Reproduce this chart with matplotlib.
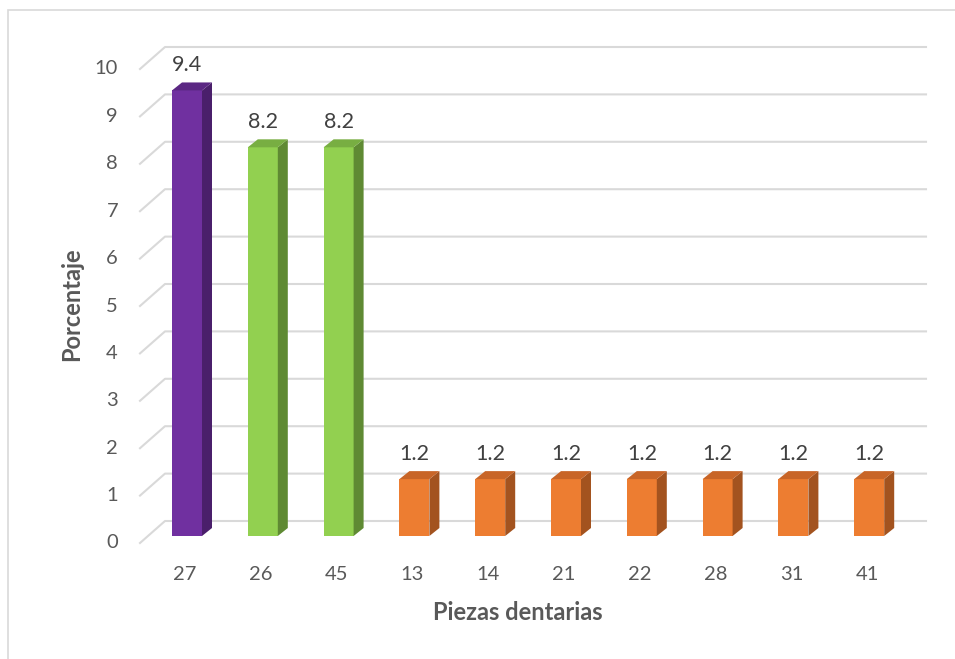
import numpy as np
import matplotlib.pyplot as plt
from matplotlib.patches import Polygon, Rectangle

# data
piezas = ['27', '26', '45', '13', '14', '21', '22', '28', '31', '41']
porcentaje = [9.4, 8.2, 8.2, 1.2, 1.2, 1.2, 1.2, 1.2, 1.2, 1.2]
front_col = ['#7030A0', '#92D050', '#92D050'] + ['#ED7D31'] * 7
side_col = ['#4A1F6B', '#5F8A33', '#5F8A33'] + ['#A3531F'] * 7
top_col = ['#5B2783', '#78AE42', '#78AE42'] + ['#C86527'] * 7
y_ticks = list(range(0, 11))

# pixel -> data mapping (category spacing 75.8 px, 47.4 px per unit)
W, H = 955, 659
cx0, cdx = 185, 75.8
y0, dyu = 536, 47.4

fig = plt.figure(figsize=(W / 100, H / 100), dpi=100)
ax = fig.add_axes([0, 0, 1, 1])
ax.set_xlim((0 - cx0) / cdx, (W - cx0) / cdx)
ax.set_ylim((y0 - H) / dyu, y0 / dyu)
ax.axis('off')

plt.rcParams['font.family'] = ['Lato', 'DejaVu Sans']
txt = '#595959'
grid = '#D9D9D9'

# border of chart area
fig.patches.append(Rectangle((8 / W, -0.01), 1.2, 1 - 10 / H - (-0.01),
                             transform=fig.transFigure, fill=False,
                             edgecolor='#D9D9D9', lw=1.2))

# 3D wall gridlines
gx_front = (140 - cx0) / cdx
gx_back = (165 - cx0) / cdx
gx_end = (926 - cx0) / cdx
front_off = -7 / dyu
back_off = 15 / dyu
for v in y_ticks:
    ax.plot([gx_front, gx_back, gx_end], [v + front_off, v + back_off, v + back_off],
            color=grid, lw=1.5, zorder=1)
    ax.text((118 - cx0) / cdx, v + front_off, str(v), ha='right', va='center',
            fontsize=14.5, color=txt)

# bars
bw = 30 / cdx
ddx = 10 / cdx
ddy = 8 / dyu
for i, (lab, val) in enumerate(zip(piezas, porcentaje)):
    xl = i + (187 - cx0) / cdx - bw / 2
    xr = xl + bw
    ax.add_patch(Polygon([(xl, 0), (xr, 0), (xr, val), (xl, val)],
                         closed=True, facecolor=front_col[i], edgecolor='none', zorder=3))
    ax.add_patch(Polygon([(xr, 0), (xr + ddx, ddy), (xr + ddx, val + ddy), (xr, val)],
                         closed=True, facecolor=side_col[i], edgecolor='none', zorder=3))
    ax.add_patch(Polygon([(xl, val), (xr, val), (xr + ddx, val + ddy), (xl + ddx, val + ddy)],
                         closed=True, facecolor=top_col[i], edgecolor='none', zorder=3))
    ax.text(xl + bw / 2, val + 25 / dyu, f'{val:.1f}', ha='center', va='center',
            fontsize=15.5, color='#404040', zorder=4)
    ax.text(i, (536 - 575) / dyu, lab, ha='center', va='center', fontsize=14.5, color=txt)

ax.text((518 - cx0) / cdx, (536 - 612) / dyu, 'Piezas dentarias', ha='center', va='center',
        fontsize=17, fontweight='bold', color=txt)
ax.text((72 - cx0) / cdx, (536 - 304) / dyu, 'Porcentaje', ha='center', va='center',
        rotation=90, fontsize=17, fontweight='bold', color=txt)

fig.savefig('out.png', dpi=100)
